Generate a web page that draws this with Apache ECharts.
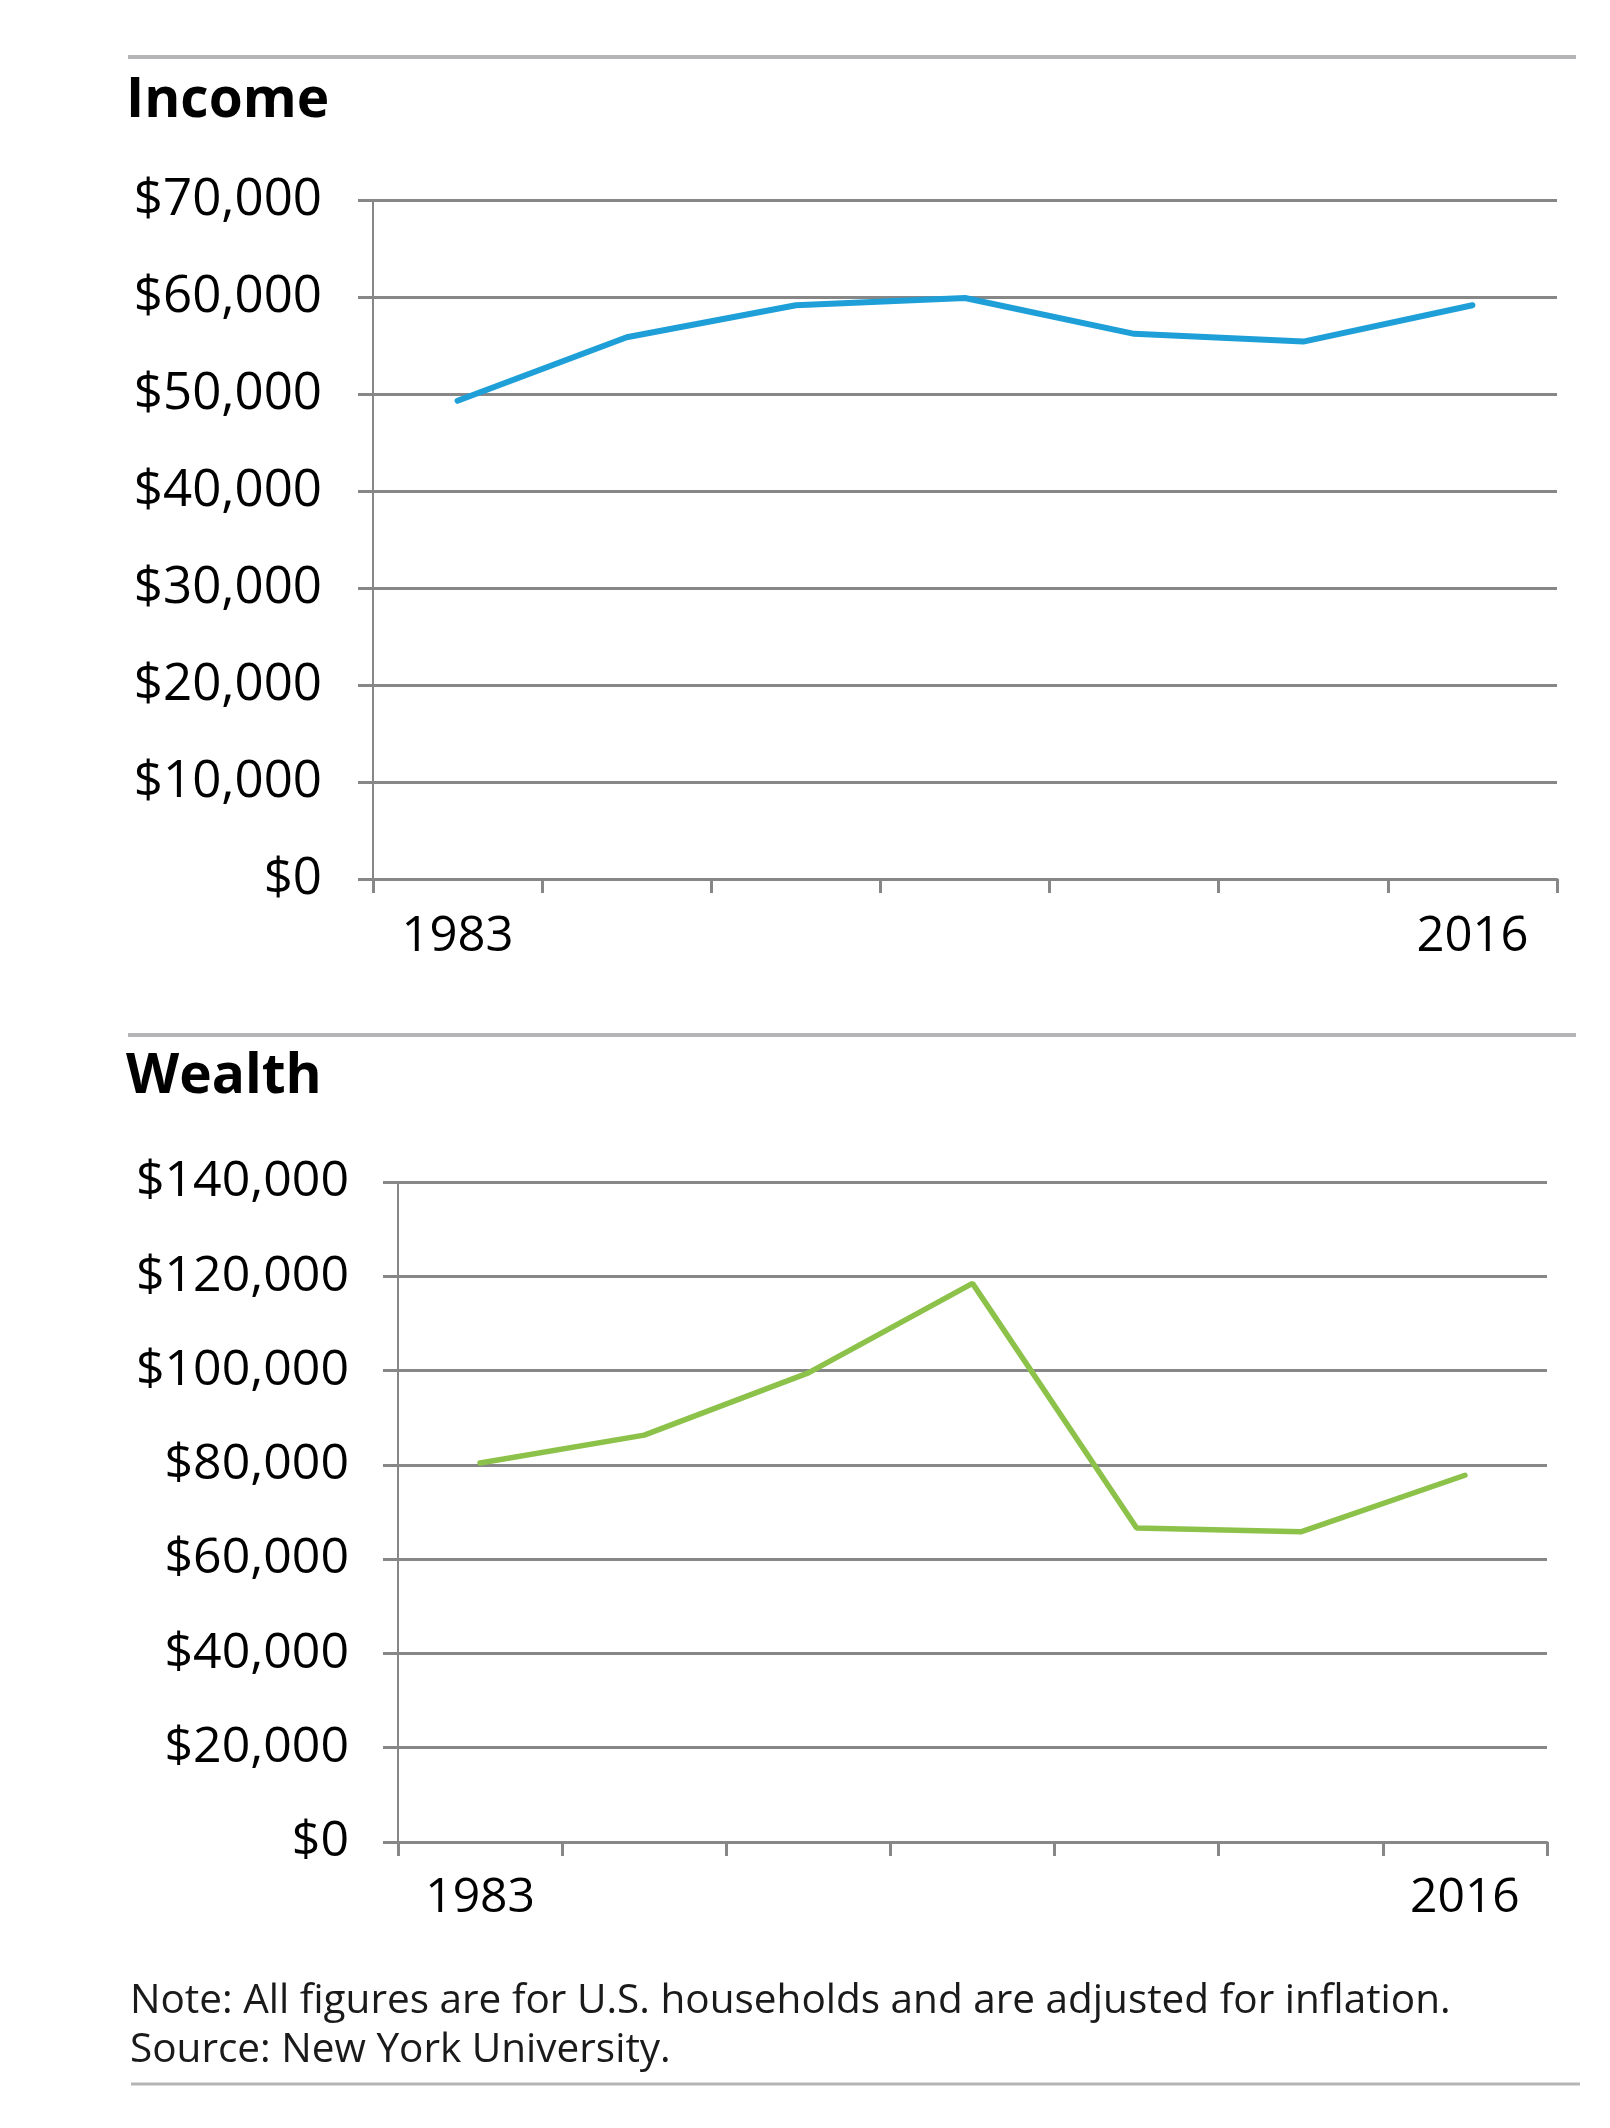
<!DOCTYPE html>
<html>
<head>
<meta charset="utf-8">
<script src="https://cdn.jsdelivr.net/npm/echarts@6/dist/echarts.min.js"></script>
<style>
html,body{margin:0;padding:0;background:#fff;}
#chart{width:1610px;height:2128px;}
</style>
</head>
<body>
<div id="chart"></div>
<script>
const years = ['1983', '1989', '2001', '2007', '2010', '2013', '2016'];
const incomeValues = [49300, 55850, 59150, 59900, 56200, 55400, 59150];
const wealthValues = [80400, 86300, 99500, 118500, 66600, 65800, 77800];
const incomeTicks = [0, 10000, 20000, 30000, 40000, 50000, 60000, 70000];
const wealthTicks = [0, 20000, 40000, 60000, 80000, 100000, 120000, 140000];
const titles = ['Income', 'Wealth'];
const noteLines = [
  'Note: All figures are for U.S. households and are adjusted for inflation.',
  'Source: New York University.'
];

const FONT = '"Open Sans", "DejaVu Sans", sans-serif';
const GRID_COLOR = '#878787';
const RULE_COLOR = '#b5b5b7';

function money(v) {
  return '$' + v.toLocaleString('en-US');
}

function xAxisFor(gridIndex, fontSize, margin) {
  return {
    type: 'category',
    gridIndex: gridIndex,
    data: years,
    boundaryGap: true,
    axisLine: { show: true, lineStyle: { color: GRID_COLOR, width: 3 } },
    axisTick: { show: true, length: 14, inside: false, interval: 0, alignWithLabel: false, lineStyle: { color: GRID_COLOR, width: 3 } },
    axisLabel: {
      show: true,
      interval: function (index) { return index === 0 || index === years.length - 1; },
      fontFamily: FONT,
      fontSize: fontSize,
      color: '#000',
      margin: margin
    },
    splitLine: { show: false }
  };
}

function yAxisFor(gridIndex, ticks, fontSize, margin) {
  return {
    type: 'value',
    gridIndex: gridIndex,
    min: ticks[0],
    max: ticks[ticks.length - 1],
    interval: ticks[1] - ticks[0],
    axisLine: { show: true, lineStyle: { color: GRID_COLOR, width: 2 } },
    axisTick: { show: true, length: 15, lineStyle: { color: GRID_COLOR, width: 3 } },
    axisLabel: {
      fontFamily: FONT,
      fontSize: fontSize,
      color: '#000',
      margin: margin,
      padding: [6, 0, 0, 0],
      formatter: money
    },
    splitLine: { show: true, lineStyle: { color: GRID_COLOR, width: 3 } }
  };
}

const chart = echarts.init(document.getElementById('chart'), null, { renderer: 'canvas' });

chart.setOption({
  backgroundColor: '#ffffff',
  animation: false,
  grid: [
    { left: 373, top: 200, width: 1184, height: 679, containLabel: false },
    { left: 398, top: 1182, width: 1149, height: 660, containLabel: false }
  ],
  xAxis: [xAxisFor(0, 49, 34), xAxisFor(1, 48, 32)],
  yAxis: [yAxisFor(0, incomeTicks, 51, 51), yAxisFor(1, wealthTicks, 50, 49)],
  series: [
    {
      type: 'line',
      xAxisIndex: 0,
      yAxisIndex: 0,
      data: incomeValues,
      symbol: 'none',
      lineStyle: { color: '#1e9fd8', width: 6, cap: 'round' },
      z: 5
    },
    {
      type: 'line',
      xAxisIndex: 1,
      yAxisIndex: 1,
      data: wealthValues,
      symbol: 'none',
      lineStyle: { color: '#8cc24a', width: 5.5, cap: 'round' },
      z: 5
    }
  ],
  graphic: [
    { type: 'line', shape: { x1: 128, y1: 57, x2: 1576, y2: 57 }, style: { stroke: RULE_COLOR, lineWidth: 4 } },
    { type: 'line', shape: { x1: 128, y1: 1035, x2: 1576, y2: 1035 }, style: { stroke: RULE_COLOR, lineWidth: 4 } },
    { type: 'line', shape: { x1: 131, y1: 2084, x2: 1580, y2: 2084 }, style: { stroke: RULE_COLOR, lineWidth: 3 } },
    { type: 'text', x: 126, y: 101, style: { text: titles[0], fontFamily: FONT, fontWeight: 'bold', fontSize: 55, fill: '#000', verticalAlign: 'middle', align: 'left' } },
    { type: 'text', x: 126, y: 1077, style: { text: titles[1], fontFamily: FONT, fontWeight: 'bold', fontSize: 55, fill: '#000', verticalAlign: 'middle', align: 'left' } },
    { type: 'text', x: 130, y: 2001, style: { text: noteLines[0], fontFamily: FONT, fontSize: 40.5, fill: '#1a1a1a', verticalAlign: 'middle', align: 'left' } },
    { type: 'text', x: 130, y: 2050, style: { text: noteLines[1], fontFamily: FONT, fontSize: 40.5, fill: '#1a1a1a', verticalAlign: 'middle', align: 'left' } }
  ]
});
</script>
</body>
</html>
